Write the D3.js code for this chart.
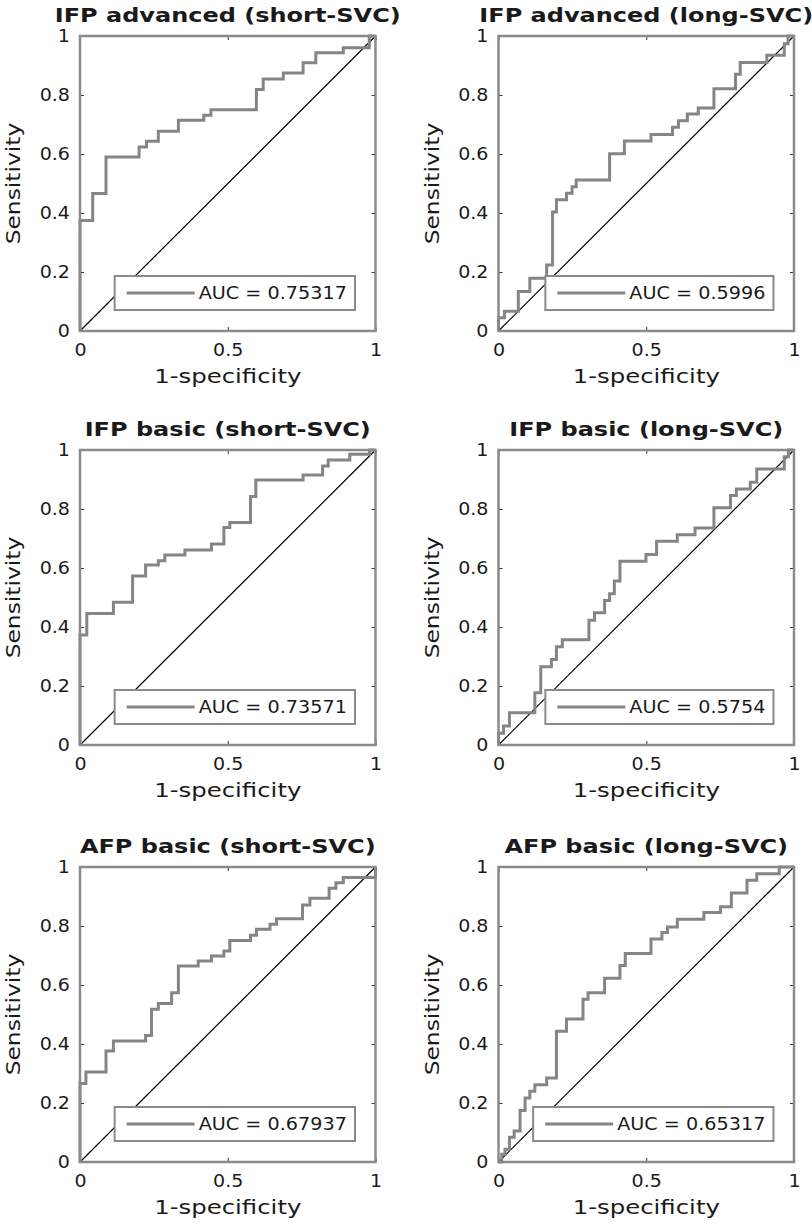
<!doctype html>
<html>
<head>
<meta charset="utf-8">
<title>ROC curves</title>
<script src="https://cdn.jsdelivr.net/npm/d3@7"></script>
<style>
  body { margin: 0; background: #fff; }
  text { font-family: 'DejaVu Sans', sans-serif; fill: #1a1a1a; }
</style>
</head>
<body>
<div id="chart-area"></div>
<script>
  // panel titles and AUC labels
  var titles = [
    'IFP advanced (short-SVC)', 'IFP advanced (long-SVC)',
    'IFP basic (short-SVC)', 'IFP basic (long-SVC)',
    'AFP basic (short-SVC)', 'AFP basic (long-SVC)'
  ];
  var aucLabels = ['0.75317', '0.5996', '0.73571', '0.5754', '0.67937', '0.65317'];

  var xTicks = [0, 0.5, 1];
  var yTicks = [0, 0.2, 0.4, 0.6, 0.8, 1];

  // ROC steps: x where the curve jumps (1-specificity), y after the jump (sensitivity)
  var advShortFpr = [0, 0, 0.043, 0.088, 0.20, 0.225, 0.265, 0.333, 0.419, 0.443, 0.597, 0.62, 0.688, 0.755, 0.798, 0.891, 0.979, 1];
  var advShortTpr = [0, 0.375, 0.466, 0.59, 0.624, 0.643, 0.677, 0.714, 0.731, 0.75, 0.819, 0.854, 0.875, 0.909, 0.943, 0.96, 1, 1];

  var advLongFpr = [0, 0, 0.02, 0.067, 0.106, 0.163, 0.183, 0.196, 0.23, 0.249, 0.263, 0.376, 0.426, 0.516, 0.589, 0.609, 0.639, 0.676, 0.729, 0.802, 0.818, 0.908, 0.967, 0.98, 1];
  var advLongTpr = [0, 0.045, 0.067, 0.134, 0.179, 0.224, 0.403, 0.445, 0.467, 0.489, 0.512, 0.601, 0.644, 0.666, 0.691, 0.713, 0.736, 0.756, 0.821, 0.87, 0.91, 0.935, 0.974, 1, 1];

  var basShortFpr = [0, 0, 0.023, 0.113, 0.178, 0.222, 0.265, 0.287, 0.355, 0.445, 0.487, 0.507, 0.577, 0.595, 0.755, 0.821, 0.84, 0.913, 0.98, 1];
  var basShortTpr = [0, 0.373, 0.446, 0.484, 0.573, 0.61, 0.625, 0.644, 0.661, 0.681, 0.737, 0.754, 0.842, 0.898, 0.915, 0.946, 0.966, 0.986, 1, 1];

  var basLongFpr = [0, 0, 0.017, 0.037, 0.123, 0.143, 0.179, 0.196, 0.216, 0.306, 0.325, 0.359, 0.376, 0.392, 0.411, 0.499, 0.535, 0.605, 0.665, 0.729, 0.785, 0.805, 0.852, 0.874, 0.967, 0.981, 1];
  var basLongTpr = [0, 0.04, 0.064, 0.109, 0.177, 0.265, 0.29, 0.333, 0.357, 0.423, 0.448, 0.49, 0.513, 0.556, 0.623, 0.646, 0.691, 0.713, 0.736, 0.804, 0.846, 0.868, 0.891, 0.936, 0.977, 1, 1];

  var afpShortFpr = [0, 0, 0.02, 0.088, 0.113, 0.222, 0.242, 0.265, 0.31, 0.333, 0.40, 0.445, 0.487, 0.507, 0.577, 0.597, 0.643, 0.665, 0.753, 0.778, 0.843, 0.866, 0.891, 1];
  var afpShortTpr = [0, 0.266, 0.305, 0.376, 0.41, 0.429, 0.518, 0.537, 0.574, 0.664, 0.681, 0.698, 0.715, 0.751, 0.769, 0.789, 0.806, 0.825, 0.871, 0.894, 0.928, 0.947, 0.964, 1];

  var afpLongFpr = [0, 0.011, 0.022, 0.037, 0.053, 0.073, 0.09, 0.106, 0.123, 0.163, 0.196, 0.23, 0.286, 0.303, 0.359, 0.411, 0.429, 0.516, 0.553, 0.572, 0.605, 0.695, 0.751, 0.788, 0.841, 0.874, 0.95, 1];
  var afpLongTpr = [0, 0.026, 0.043, 0.084, 0.105, 0.175, 0.217, 0.24, 0.262, 0.285, 0.443, 0.485, 0.552, 0.574, 0.623, 0.666, 0.707, 0.756, 0.778, 0.797, 0.823, 0.846, 0.865, 0.912, 0.955, 0.977, 1, 1];

  var curves = [
    [advShortFpr, advShortTpr], [advLongFpr, advLongTpr],
    [basShortFpr, basShortTpr], [basLongFpr, basLongTpr],
    [afpShortFpr, afpShortTpr], [afpLongFpr, afpLongTpr]
  ];

  // layout
  var colLeft = [80, 498.5];
  var rowTop = [36, 450, 867];
  var plotW = 295.5;
  var plotH = 295;
  var boxColor = '#8a8a8a';
  var curveColor = '#858585';

  var svg = d3.select('#chart-area')
      .append('svg')
      .attr('width', 812)
      .attr('height', 1225);

  titles.forEach(function(title, i) {
    var g = svg.append('g')
        .attr('transform', 'translate(' + colLeft[i % 2] + ',' + rowTop[Math.floor(i / 2)] + ')');

    var x = d3.scaleLinear().domain([0, 1]).range([0, plotW]);
    var y = d3.scaleLinear().domain([0, 1]).range([plotH, 0]);

    // chance line
    g.append('line')
        .attr('x1', x(0)).attr('y1', y(0))
        .attr('x2', x(1)).attr('y2', y(1))
        .attr('stroke', '#000')
        .attr('stroke-width', 1.2);

    // ROC curve
    var pts = curves[i][0].map(function(d, k) {
      return [d, curves[i][1][k]];
    });
    var line = d3.line()
        .x(function(d) { return x(d[0]); })
        .y(function(d) { return y(d[1]); })
        .curve(d3.curveStepAfter);
    g.append('path')
        .datum(pts)
        .attr('d', line)
        .attr('fill', 'none')
        .attr('stroke', curveColor)
        .attr('stroke-width', 3);

    // Axes, ticks inward on all four sides
    g.append('g')
        .attr('transform', 'translate(0,' + plotH + ')')
        .call(d3.axisBottom(x).tickValues(xTicks).tickSize(-4).tickPadding(13)
            .tickFormat(function(d) { return d; }));
    g.append('g')
        .call(d3.axisLeft(y).tickValues(yTicks).tickSize(-4).tickPadding(9)
            .tickFormat(function(d) { return d; }));
    g.append('g')
        .call(d3.axisTop(x).tickValues(xTicks).tickSize(-4).tickFormat(''));
    g.append('g')
        .attr('transform', 'translate(' + plotW + ',0)')
        .call(d3.axisRight(y).tickValues(yTicks).tickSize(-4).tickFormat(''));
    g.selectAll('.domain').remove();
    g.selectAll('.tick line').attr('stroke', '#333');
    g.selectAll('.tick text')
        .attr('font-size', '17px')
        .attr('font-family', 'DejaVu Sans')
        .attr('fill', '#1a1a1a')
        .attr('transform', 'scale(1.12,1)');

    g.append('rect')
        .attr('width', plotW)
        .attr('height', plotH)
        .attr('fill', 'none')
        .attr('stroke', boxColor)
        .attr('stroke-width', 2.5);

    // Labels
    g.append('text')
        .attr('transform', 'translate(' + plotW / 2 + ',-14) scale(1.2,1)')
        .attr('text-anchor', 'middle')
        .attr('font-size', '20px')
        .attr('font-weight', 'bold')
        .text(title);
    g.append('text')
        .attr('transform', 'translate(' + plotW / 2 + ',' + (plotH + 52) + ') scale(1.22,1)')
        .attr('text-anchor', 'middle')
        .attr('font-size', '20px')
        .text('1-specificity');
    g.append('text')
        .attr('transform', 'translate(-60,' + plotH / 2 + ') rotate(-90) scale(1.17,1)')
        .attr('text-anchor', 'middle')
        .attr('font-size', '20px')
        .text('Sensitivity');

    // Legend
    var leg = g.append('g');
    var legRect = leg.append('rect');
    var legText = leg.append('text')
        .attr('font-size', '17px')
        .text('AUC = ' + aucLabels[i]);
    var textW = legText.node().getComputedTextLength() * 1.13;
    var legW = textW + 92;
    var legH = 34;
    var legX = plotW - 20.5 - legW;
    var legY = plotH - 21 - legH;
    legRect
        .attr('x', legX).attr('y', legY)
        .attr('width', legW).attr('height', legH)
        .attr('fill', '#fff')
        .attr('stroke', boxColor)
        .attr('stroke-width', 2);
    leg.append('line')
        .attr('x1', legX + 12).attr('x2', legX + 80)
        .attr('y1', legY + legH / 2).attr('y2', legY + legH / 2)
        .attr('stroke', curveColor)
        .attr('stroke-width', 3);
    legText.attr('transform', 'translate(' + (legX + 84) + ',' + (legY + legH / 2 + 6.3) + ') scale(1.13,1)');
  });
</script>
</body>
</html>
